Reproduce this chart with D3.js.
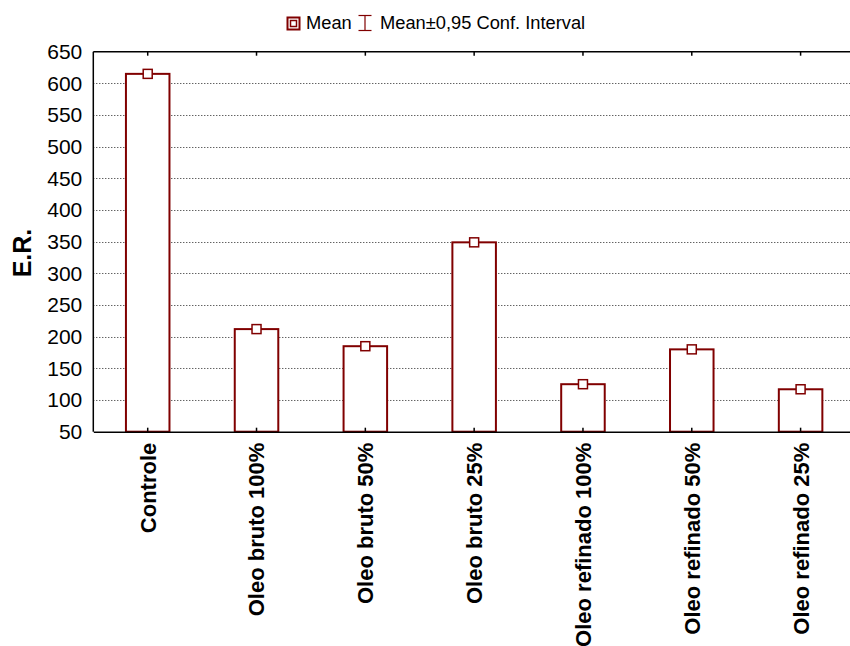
<!DOCTYPE html>
<html>
<head>
<meta charset="utf-8">
<script src="https://cdn.jsdelivr.net/npm/d3@7"></script>
<style>
	body { margin: 0; background: #fff; }
	svg { display: block; font-family: Arial, "Liberation Sans", sans-serif; }
</style>
</head>
<body>
<div id="maViz"></div>
<script>
// Paramètres de la visualisation
const margin = {top: 51.7, right: -5, bottom: 214.3, left: 93.3}; // marge (le cadre déborde à droite)
const width = 850 - margin.left - margin.right;
const height = 646 - margin.top - margin.bottom;
const couleur = '#800000'; // rouge foncé

// Données
const categories = ['Controle', 'Oleo bruto 100%', 'Oleo bruto 50%', 'Oleo bruto 25%',
	'Oleo refinado 100%', 'Oleo refinado 50%', 'Oleo refinado 25%'];
const moyennes = [615, 212, 185, 349, 125, 180, 117];
const ticksY = [50, 100, 150, 200, 250, 300, 350, 400, 450, 500, 550, 600, 650];
const grilleY = [100, 150, 200, 250, 300, 350, 400, 450, 500, 550, 600];

let echelleX;
let echelleY;

function setup() {
	const data = categories.map((c, i) => ({categorie: c, valeur: moyennes[i]}));

	const svg = d3.select('#maViz')
		.append('svg')
		.attr('width', 850)
		.attr('height', 646);

	// échelles
	echelleX = d3.scaleBand()
		.domain(categories)
		.range([0, width])
		.paddingInner(0.6)
		.paddingOuter(0.3);

	echelleY = d3.scaleLinear()
		.domain([50, 650])
		.range([height, 0]);

	const g = svg.append('g')
		.attr('transform', `translate(${margin.left},${margin.top})`);

	// lignes de grille pointillées
	g.append('g')
		.selectAll('line')
		.data(grilleY)
		.join('line')
			.attr('x1', 0)
			.attr('x2', width)
			.attr('y1', d => Math.round(echelleY(d) + margin.top) - margin.top + 0.5)
			.attr('y2', d => Math.round(echelleY(d) + margin.top) - margin.top + 0.5)
			.attr('stroke', '#222')
			.attr('stroke-width', 1)
			.attr('stroke-dasharray', '1,2');

	// barres
	g.append('g')
		.selectAll('rect')
		.data(data)
		.join('rect')
			.attr('x', d => echelleX(d.categorie))
			.attr('y', d => echelleY(d.valeur))
			.attr('width', echelleX.bandwidth())
			.attr('height', d => echelleY(50) - echelleY(d.valeur))
			.attr('fill', '#fff')
			.attr('stroke', couleur)
			.attr('stroke-width', 2);

	// cadre : axe gauche et haut
	g.append('line')
		.attr('x1', 0).attr('x2', 0)
		.attr('y1', 0).attr('y2', height)
		.attr('stroke', '#000').attr('stroke-width', 1.5);
	g.append('line')
		.attr('x1', 0).attr('x2', width)
		.attr('y1', 0).attr('y2', 0)
		.attr('stroke', '#000').attr('stroke-width', 1.5);

	// axe X (bas) avec petits ticks vers l'intérieur
	const axeBas = g.append('g')
		.attr('transform', `translate(0,${height})`)
		.call(d3.axisBottom(echelleX).tickSizeInner(-4).tickSizeOuter(0));
	axeBas.select('.domain').attr('stroke-width', 1.5);
	axeBas.selectAll('.tick line').attr('stroke-width', 1.5);
	axeBas.selectAll('text')
		.attr('transform', 'rotate(-90)')
		.attr('x', -11)
		.attr('y', 0)
		.attr('dy', '0.36em')
		.style('text-anchor', 'end')
		.style('font-size', '22px')
		.style('font-weight', 'bold')
		.attr('fill', '#000');

	// ticks du haut
	g.append('g')
		.call(d3.axisTop(echelleX).tickSizeInner(-4).tickSizeOuter(0).tickFormat(''))
		.call(a => a.select('.domain').remove())
		.selectAll('.tick line').attr('stroke-width', 1.5);

	// axe Y
	const axeGauche = g.append('g')
		.call(d3.axisLeft(echelleY).tickValues(ticksY).tickSize(0).tickPadding(11));
	axeGauche.select('.domain').remove();
	axeGauche.selectAll('text')
		.style('font-size', '21px')
		.attr('fill', '#000');

	// marqueurs des moyennes
	g.append('g')
		.selectAll('rect')
		.data(data)
		.join('rect')
			.attr('x', d => echelleX(d.categorie) + echelleX.bandwidth() / 2 - 4.5)
			.attr('y', d => echelleY(d.valeur) - 4.5)
			.attr('width', 9)
			.attr('height', 9)
			.attr('fill', '#fff')
			.attr('stroke', couleur)
			.attr('stroke-width', 1.5);

	// titre axe Y
	svg.append('text')
		.attr('transform', 'translate(31,253) rotate(-90)')
		.style('text-anchor', 'middle')
		.style('font-size', '25px')
		.style('font-weight', 'bold')
		.text('E.R.');

	// légende
	const legende = svg.append('g');
	legende.append('rect')
		.attr('x', 287.5).attr('y', 17.5)
		.attr('width', 12).attr('height', 12)
		.attr('fill', '#fff').attr('stroke', couleur).attr('stroke-width', 2);
	legende.append('rect')
		.attr('x', 290.5).attr('y', 20.5)
		.attr('width', 6).attr('height', 6)
		.attr('fill', '#fff').attr('stroke', couleur).attr('stroke-width', 1.5);
	legende.append('text')
		.attr('x', 306).attr('y', 29)
		.style('font-size', '18.3px')
		.text('Mean');
	// icône intervalle de confiance
	const ic = legende.append('g').attr('stroke', couleur).attr('stroke-width', 1.2);
	ic.append('line').attr('x1', 365).attr('x2', 365).attr('y1', 15.5).attr('y2', 30.5);
	ic.append('line').attr('x1', 358.5).attr('x2', 371.5).attr('y1', 15.5).attr('y2', 15.5);
	ic.append('line').attr('x1', 358.5).attr('x2', 371.5).attr('y1', 30.5).attr('y2', 30.5);
	legende.append('text')
		.attr('x', 380).attr('y', 29)
		.style('font-size', '18.3px')
		.text('Mean±0,95 Conf. Interval');
}

setup();
</script>
</body>
</html>
